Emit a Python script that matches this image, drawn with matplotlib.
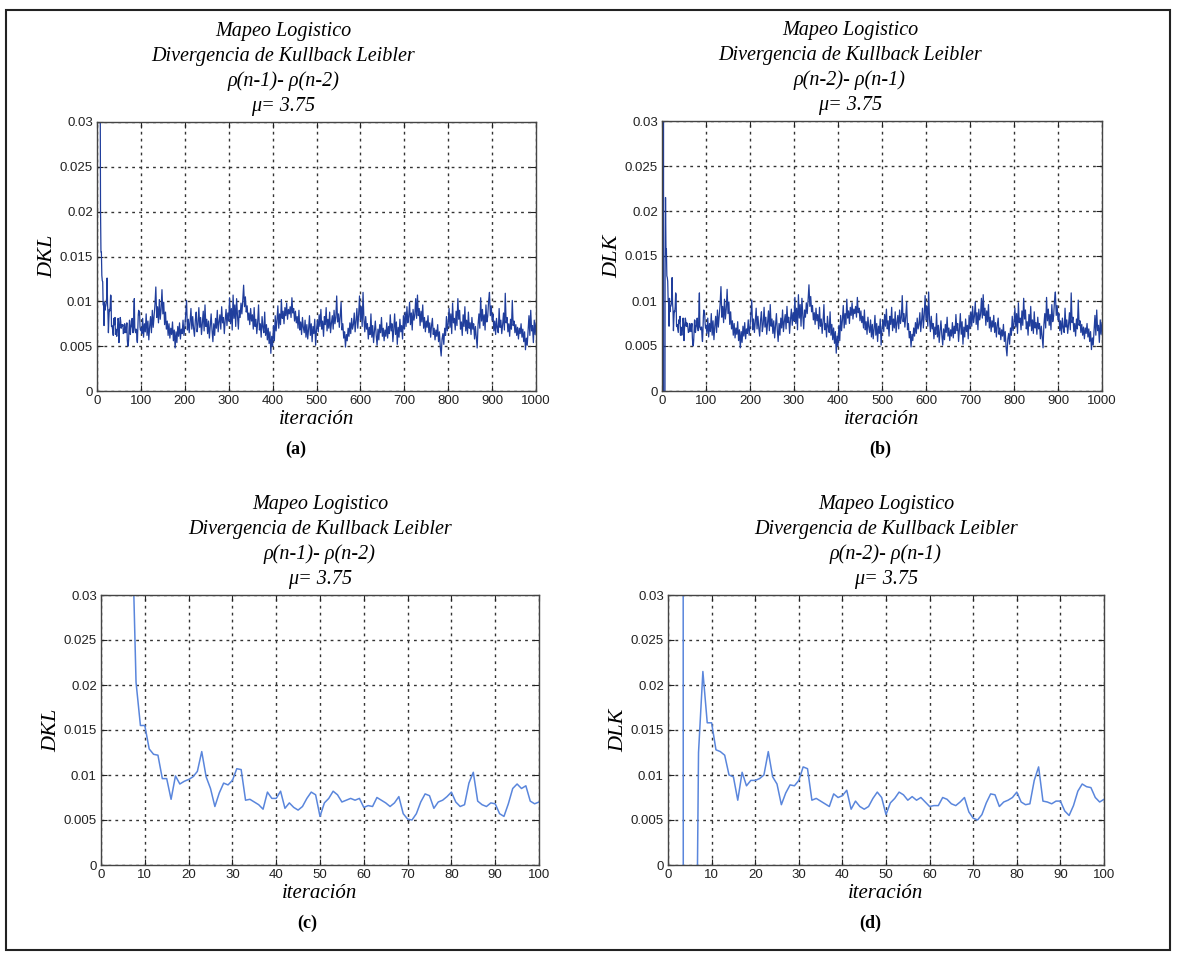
import numpy as np
import matplotlib
matplotlib.use("Agg")
import matplotlib.pyplot as plt
from matplotlib.patches import Rectangle
from matplotlib.ticker import FuncFormatter

plt.rcParams['font.family'] = ['Liberation Sans', 'DejaVu Sans']

# DKL, primeras 101 iteraciones (x1e-3), p(n-1)-p(n-2)
dkl_inicio = [250, 180, 130, 95, 70, 55, 46, 39.6,
              20.3, 15.5, 15.5, 12.9, 12.3, 12.2, 9.6, 9.6, 7.3, 9.9,
              9.0, 9.3, 9.5, 9.8, 10.4, 12.6, 9.8, 8.5, 6.5, 8.0,
              9.1, 8.9, 9.4, 10.7, 10.6, 7.2, 7.3, 7.0, 6.7, 6.2,
              8.1, 7.4, 7.4, 8.2, 6.3, 6.9, 6.4, 6.1, 6.5, 7.4,
              8.1, 7.8, 5.4, 6.9, 7.4, 8.2, 7.8, 7.0, 7.2, 7.4,
              7.2, 7.4, 6.4, 6.6, 6.5, 7.5, 7.2, 6.9, 6.5, 6.9,
              7.6, 5.7, 5.1, 5.0, 5.7, 7.0, 7.9, 7.7, 6.3, 7.0,
              7.2, 7.6, 8.1, 7.0, 6.5, 6.7, 9.1, 10.3, 7.1, 6.7,
              6.5, 6.9, 6.8, 5.7, 5.4, 6.8, 8.5, 9.0, 8.5, 8.8,
              7.1, 6.8, 7.0]

# DLK, primeras 101 iteraciones (x1e-3), p(n-2)-p(n-1)
dlk_inicio = [60, 80, 150, 1000, -1000, -800, -40, 12.5,
              21.5, 15.8, 15.8, 12.8, 12.6, 12.2, 10.0, 9.8, 7.2, 10.3,
              8.8, 9.4, 9.4, 9.6, 10.0, 12.6, 9.8, 9.0, 6.7, 8.0,
              8.9, 8.8, 9.4, 10.9, 10.7, 7.2, 7.4, 7.1, 6.8, 6.5,
              7.9, 7.5, 7.7, 8.3, 6.2, 7.1, 6.5, 6.2, 6.5, 7.4,
              8.1, 7.5, 5.6, 6.9, 7.4, 8.1, 7.8, 7.2, 7.6, 7.2,
              7.5, 7.0, 6.5, 6.6, 6.6, 7.5, 7.3, 6.8, 6.6, 7.0,
              7.5, 5.9, 5.2, 5.0, 5.6, 6.9, 7.9, 7.8, 6.5, 7.0,
              7.2, 7.5, 8.1, 7.0, 6.7, 6.8, 9.4, 10.9, 7.1, 7.0,
              6.8, 7.1, 7.1, 6.0, 5.5, 6.6, 8.2, 9.0, 8.7, 8.6,
              7.5, 7.0, 7.3]

# iteraciones 102..1000 cada 2 (x1e-3)
dkl_resto = [
    6.4, 8.1, 6.0, 7.5, 6.6, 8.6, 6.2, 7.8, 5.7, 7.2, 8.3, 6.5, 9.0, 7.1, 8.4, 9.6, 11.6, 8.2, 9.4, 7.6, 10.2, 8.0, 9.1, 11.3, 8.6,
    9.9, 7.4, 8.8, 6.9, 7.8, 6.2, 7.5, 5.9, 7.0, 6.3, 7.7, 5.6, 6.8, 4.8, 6.6, 5.4, 7.2, 6.1, 7.6, 5.8, 6.9, 6.4, 7.9, 6.2, 7.1,
    8.5, 10.1, 6.8, 8.0, 6.5, 7.7, 9.2, 6.9, 8.3, 7.0, 6.1, 7.9, 8.8, 6.6, 7.4, 9.3, 7.1, 8.2, 6.3, 7.6, 8.9, 6.7, 9.6, 7.2, 8.0,
    6.4, 7.8, 5.9, 7.3, 8.6, 6.8, 5.5, 7.5, 6.2, 8.1, 7.0, 9.0, 6.6, 7.7, 8.5, 6.9, 9.4, 7.6, 8.2, 6.4, 7.9, 9.1, 7.3, 8.7, 7.8,
    10.4, 7.5, 9.2, 6.8, 10.7, 8.1, 9.6, 7.2, 10.3, 8.4, 6.9, 9.0, 8.2, 9.8, 8.6, 10.1, 11.8, 9.4, 10.5, 8.8, 9.5, 7.9, 8.7, 7.4, 9.2,
    7.8, 8.5, 6.9, 9.3, 7.2, 8.0, 6.4, 7.7, 9.6, 6.8, 7.5, 6.0, 8.3, 7.1, 6.5, 8.8, 6.2, 7.4, 5.7, 7.0, 5.3, 6.6, 4.2, 6.1, 5.0,
    7.3, 5.6, 8.4, 6.7, 7.9, 9.5, 7.0, 8.6, 7.4, 10.2, 8.1, 8.9, 7.5, 9.3, 8.4, 9.8, 8.0, 9.1, 8.6, 9.4, 8.2, 10.4, 8.7, 9.2, 7.8,
    8.9, 7.6, 8.3, 7.0, 9.0, 6.8, 7.7, 6.3, 8.2, 7.1, 6.5, 7.9, 6.0, 7.4, 5.8, 6.9, 8.4, 6.2, 7.5, 5.5, 7.2, 6.4, 8.0, 5.1, 6.8,
    7.9, 6.6, 8.5, 7.2, 9.1, 6.9, 7.8, 6.1, 8.3, 7.4, 9.3, 6.7, 8.0, 7.0, 8.8, 6.5, 7.6, 8.4, 6.9, 9.0, 7.5, 8.2, 10.6, 7.7, 8.6,
    7.1, 8.3, 9.9, 6.8, 7.5, 5.9, 6.6, 4.9, 6.3, 5.6, 7.0, 6.1, 7.6, 6.4, 8.1, 6.9, 7.4, 8.7, 6.6, 7.8, 9.2, 7.0, 8.5, 10.6, 7.9,
    9.4, 7.2, 11.0, 8.0, 6.6, 8.3, 6.9, 7.5, 5.8, 7.1, 6.3, 8.6, 6.0, 7.3, 5.4, 6.7, 7.8, 6.2, 5.1, 6.9, 5.7, 7.4, 6.5, 8.2, 6.1,
    7.0, 5.6, 6.8, 6.1, 7.6, 5.9, 7.2, 6.4, 8.5, 6.7, 7.5, 5.5, 6.9, 8.6, 6.3, 7.7, 5.2, 7.1, 6.0, 8.0, 6.6, 7.3, 5.8, 8.4, 6.9,
    8.8, 7.2, 9.4, 7.6, 8.3, 9.9, 7.4, 8.7, 6.8, 9.1, 7.9, 8.5, 10.3, 8.1, 10.7, 8.4, 9.2, 7.3, 8.9, 7.7, 9.6, 7.0, 8.2, 6.6, 7.8,
    7.1, 8.4, 6.5, 7.6, 6.0, 7.3, 8.1, 6.3, 7.0, 5.7, 6.8, 6.1, 7.4, 5.5, 6.6, 4.9, 3.9, 5.8, 6.4, 5.2, 7.0, 6.2, 8.3, 6.7, 7.5,
    9.2, 7.1, 8.6, 6.4, 9.8, 7.6, 8.1, 6.8, 8.9, 7.3, 10.3, 8.0, 9.0, 6.9, 7.7, 6.2, 8.5, 7.2, 9.4, 6.7, 7.9, 6.4, 8.8, 7.0, 7.6,
    6.3, 8.2, 6.9, 7.5, 5.8, 7.2, 6.0, 4.8, 7.4, 8.6, 7.0, 10.4, 7.8, 9.1, 7.3, 8.5, 6.8, 9.6, 7.7, 8.3, 10.0, 11.0, 8.4, 9.5, 7.9,
    8.6, 6.7, 7.8, 6.3, 8.1, 7.0, 6.5, 9.2, 7.1, 7.9, 6.4, 7.4, 8.7, 6.8, 10.9, 7.6, 8.2, 6.6, 7.5, 6.1, 8.0, 6.9, 10.1, 7.3, 7.8,
    6.5, 7.4, 6.2, 7.1, 5.8, 7.0, 6.4, 7.5, 6.0, 6.9, 5.5, 6.6, 4.6, 5.9, 5.1, 6.8, 8.4, 6.2, 9.0, 6.7, 7.3, 5.4, 7.9, 6.3, 7.6,
]

iter_100 = np.arange(0, 101)
iter_1000 = np.concatenate([iter_100, np.arange(102, 1001, 2)])

serie_a = np.concatenate([dkl_inicio, dkl_resto]) * 1e-3
serie_b = np.concatenate([dlk_inicio, dkl_resto]) * 1e-3
serie_c = np.array(dkl_inicio) * 1e-3
serie_d = np.array(dlk_inicio) * 1e-3

titulo_1 = "Mapeo Logistico\nDivergencia de Kullback Leibler\n\u03c1(n-1)- \u03c1(n-2)\n\u03bc= 3.75"
titulo_2 = "Mapeo Logistico\nDivergencia de Kullback Leibler\n\u03c1(n-2)- \u03c1(n-1)\n\u03bc= 3.75"

W, H = 1177, 959
fig = plt.figure(figsize=(W / 100, H / 100), dpi=100)

def caja(l, t, r, b):
    return [l / W, 1 - b / H, (r - l) / W, (b - t) / H]

# posicion, x, y, limite x, titulo, x del titulo, etiqueta y, letra, x letra, color, grosor
paneles = [
    (caja(97, 122, 536, 391), iter_1000, serie_a, 1000, titulo_1, 0.425, "DKL", "(a)", 296, '#203e9c', 0.9),
    (caja(662, 121, 1102, 391), iter_1000, serie_b, 1000, titulo_2, 0.427, "DLK", "(b)", 880, '#203e9c', 0.9),
    (caja(101, 595, 539, 865), iter_100, serie_c, 100, titulo_1, 0.5, "DKL", "(c)", 307, '#5a86dc', 1.1),
    (caja(668, 595, 1104, 865), iter_100, serie_d, 100, titulo_2, 0.5, "DLK", "(d)", 870, '#5a86dc', 1.1),
]

serif_it = dict(family=['Liberation Serif', 'DejaVu Serif'], style='italic')
fmt = FuncFormatter(lambda v, p: '%g' % round(v, 4))

for pos, x, y, xmax, titulo, xt, ylab, letra, xletra, color, lw in paneles:
    ax = fig.add_axes(pos)
    ax.plot(x, y, color=color, lw=lw)
    ax.set_xlim(0, xmax)
    ax.set_ylim(0, 0.03)
    ax.set_xticks(np.linspace(0, xmax, 11))
    ax.set_yticks(np.arange(0, 0.0301, 0.005))
    ax.yaxis.set_major_formatter(fmt)
    ax.grid(True, color='#333333', linestyle=(0, (2, 3)), linewidth=1.0)
    ax.tick_params(direction='in', top=True, right=True, labelsize=9.5,
                   length=4, colors='#222222', pad=3)
    for s in ax.spines.values():
        s.set_color('#444444')
        s.set_linewidth(1.0)
    ax.set_title(titulo, x=xt, fontsize=14.5, linespacing=1.4, pad=8, **serif_it)
    ax.set_xlabel("iteración", fontsize=15, labelpad=2, **serif_it)
    ax.set_ylabel(ylab, fontsize=16, labelpad=2, **serif_it)
    fig.text(xletra / W, 1 - (H - pos[1] * H + 58) / H, letra, ha='center', va='center',
             fontsize=13, fontweight='bold', family=['Liberation Serif', 'DejaVu Serif'])

fig.patches.append(Rectangle((6 / W, 1 - 950 / H), 1164 / W, 940 / H, transform=fig.transFigure,
                             fill=False, edgecolor='#222222', linewidth=1.5))

fig.savefig("out.png", dpi=100)
